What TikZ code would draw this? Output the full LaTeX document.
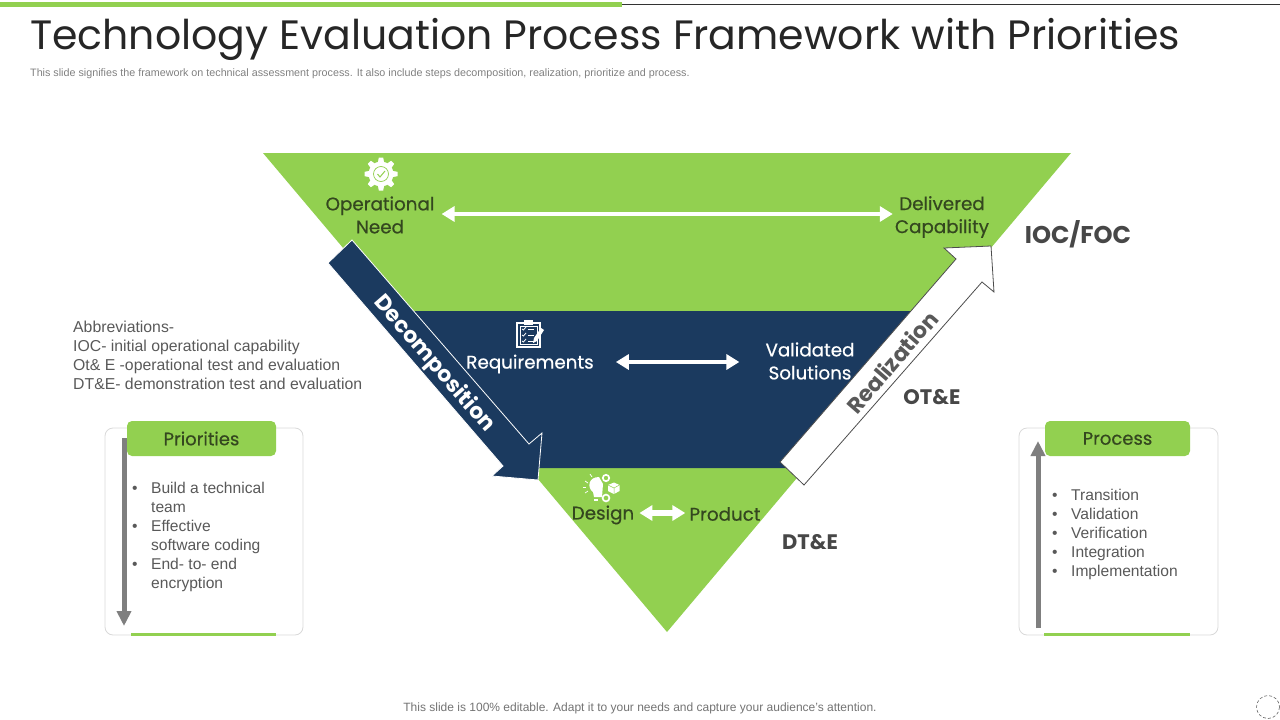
\documentclass[tikz,border=0pt]{standalone}
\usepackage{fontspec}
\setmainfont{Liberation Sans}
\newfontfamily\headfont{Poppins}
\newfontfamily\midfont[FakeBold=0.5]{Poppins}
\usetikzlibrary{arrows.meta,calc}
\definecolor{mygreen}{HTML}{92D050}
\definecolor{mynavy}{HTML}{1B3A5F}
\definecolor{mydarkgreen}{HTML}{34471F}
\definecolor{mytext}{HTML}{595959}
\definecolor{mygrey}{HTML}{7F7F7F}
\tikzset{>=latex}
\tikzstyle{stage}=[font=\midfont\fontsize{18.3}{23}\selectfont,align=center,inner sep=2]
\tikzstyle{tier}=[font=\headfont\bfseries\fontsize{21}{25}\selectfont,text=black!72]
\tikzstyle{bodytext}=[font=\fontsize{15.8}{19}\selectfont,text=mytext,align=left,inner sep=0]
\tikzstyle{listtext}=[font=\fontsize{15.6}{19}\selectfont,text=mytext,align=left,inner sep=0]
\tikzstyle{headbox}=[fill=mygreen,rounded corners=5,text=mydarkgreen,font=\midfont\fontsize{18}{20}\selectfont,inner sep=0]
\tikzstyle{card}=[draw=black!15,fill=white,rounded corners=8,line width=.8]
\tikzstyle{whitearrow}=[{Triangle[length=13,width=15]}-{Triangle[length=13,width=15]},white]
\tikzstyle{greyarrow}=[-{Triangle[length=15,width=14]},mygrey,line width=5]
\def\gearicon#1#2{
  \foreach \t in {0,45,...,315}
    \fill[white,rotate around={\t:(#1,#2)}] (#1-3.2,#2-11) -- (#1-2.2,#2-16.5) -- (#1+2.2,#2-16.5) -- (#1+3.2,#2-11) -- cycle;
  \fill[white] (#1,#2) circle (12.5);
  \draw[mygreen,line width=.7] (#1,#2) circle (7.5);
  \draw[mygreen,line width=1] (#1-3.5,#2) -- (#1-1,#2+3) -- (#1+4,#2-3);
}
\def\clipicon#1#2{
  \draw[white,line width=1.2,fill=mynavy] (#1-12,#2-11) rectangle (#1+11,#2+13);
  \draw[white,line width=1] (#1-9,#2-8) rectangle (#1+8,#2+10);
  \fill[white] (#1-5,#2-14) rectangle (#1+4,#2-9);
  \foreach \i in {-4,2,8} {
    \draw[white,line width=.8] (#1-7,#2+\i-1) -- (#1-5.5,#2+\i) -- (#1-3,#2+\i-3);
    \draw[white,line width=1] (#1-1,#2+\i-1) -- (#1+5,#2+\i-1);
  }
  \fill[white] (#1+4,#2+9) -- (#1+5,#2+4) -- (#1+12,#2-6) -- (#1+15,#2-4) -- (#1+8,#2+7) -- cycle;
}
\def\designicon#1#2{
  % bulb
  \fill[white] (#1,#2-11) .. controls (#1-11,#2-11) and (#1-12,#2) .. (#1-6,#2+4) -- (#1-5,#2+9) -- (#1+3,#2+9) -- (#1+4,#2-4) -- cycle;
  \fill[white] (#1-5,#2+10.5) rectangle (#1-1,#2+13);
  \foreach \a/\b/\c/\d in {-14/-7/-11/-5,-16/-1/-13/-1,-14/5/-11/3,-9/-14/-7/-11}
    \draw[white,line width=.7] (#1+\a,#2+\b) -- (#1+\c,#2+\d);
  % gears
  \draw[white,line width=1.7] (#1+7,#2-10) circle (3.2);
  \draw[white,line width=1.7] (#1+7,#2+10) circle (3.4);
  % cube
  \fill[white] (#1+15,#2-5.5) -- (#1+20.5,#2-3) -- (#1+20.5,#2+3) -- (#1+15,#2+6) -- (#1+9,#2+3) -- (#1+9,#2-3) -- cycle;
  \draw[mygreen,line width=.5] (#1+9,#2-3) -- (#1+15,#2) -- (#1+20.5,#2-3) (#1+15,#2) -- (#1+15,#2+6);
}
\begin{document}
\begin{tikzpicture}[x=1pt,y=-1pt]
  \useasboundingbox (0,0) rectangle (1280,720);

  % TOP RULE
  \draw[black!80,line width=.8] (622,4) -- (1280,4);
  \fill[mygreen] (0,2) rectangle (622,7);

  % HEADINGS
  \node[anchor=west,inner sep=0,text=black!85,font=\headfont\fontsize{41}{46}\selectfont] (title) at (30,39.5) {Technology Evaluation Process Framework with Priorities};
  \node[anchor=west,inner sep=0,text=black!50,font=\fontsize{10.75}{12}\selectfont] (subtitle) at (30,74) {This slide signifies the framework on technical assessment process. It also include steps decomposition, realization, prioritize and process.};
  \node[inner sep=0,text=black!55,font=\fontsize{12}{14}\selectfont] (footer) at (640,708) {This slide is 100\% editable. Adapt it to your needs and capture your audience's attention.};

  % TRIANGLE
  \fill[mygreen] (263,153) -- (1071,153) -- (667,632) -- cycle;
  \fill[mynavy] (396,311) -- (938,311) -- (805,468) -- (529,468) -- cycle;

  % DECOMPOSITION
  \draw[white,line width=.8,fill=mynavy] (352,240) -- (529,444) -- (542,433) -- (538,480) -- (492,476) -- (503,466) -- (328,263) -- cycle;
  \node[rotate=-49,text=white,font=\headfont\bfseries\fontsize{22}{26}\selectfont,inner sep=0] (decomp) at (434,364) {Decomposition};

  % REALIZATION
  \draw[black!70,line width=.8,fill=white] (780,462) -- (956,259) -- (944,248) -- (991,246) -- (994,292) -- (982,282) -- (804,485) -- cycle;
  \node[rotate=49,text=black!65,font=\headfont\bfseries\fontsize{22}{26}\selectfont,inner sep=0] (realize) at (892,362) {Realization};

  % STAGES
  \node[stage,text=mydarkgreen] (opneed) at (380,215) {Operational\\Need};
  \node[stage,text=mydarkgreen] (delcap) at (942,217) {Delivered\\Capability};
  \node[stage,text=white] (req) at (530,364) {Requirements};
  \node[stage,text=white] (valsol) at (810,361) {Validated\\Solutions};
  \node[stage,text=mydarkgreen] (design) at (603,515) {Design};
  \node[stage,text=mydarkgreen] (product) at (725,514) {Product};

  \draw[whitearrow,line width=4] ($(opneed.east)+(5,-1)$) -- ($(delcap.west)+(0,-3)$);
  \draw[whitearrow,line width=4] ($(req.east)+(20,-2)$) -- ($(valsol.west)+(-24,1)$);
  \draw[whitearrow,line width=6] ($(design.east)+(3,-2)$) -- ($(product.west)+(-2,-1)$);

  % ICONS
  \gearicon{381}{174}
  \clipicon{529}{334}
  \designicon{599}{488}

  % TIERS
  \node[tier,font=\headfont\bfseries\fontsize{24.2}{28}\selectfont] (iocfoc) at (1078,234) {IOC/FOC};
  \node[tier] (ote) at (932,397) {OT\&E};
  \node[tier] (dte) at (810,542) {DT\&E};

  % ABBREVIATIONS
  \node[bodytext,anchor=north west] (abbrev) at (73,320.5) {Abbreviations-\\IOC- initial operational capability\\Ot\& E -operational test and evaluation\\DT\&E- demonstration test and evaluation};

  % PRIORITIES
  \draw[card] (105,428) rectangle (303,635);
  \draw[mygreen,line width=3] (131,634) -- (276,634);
  \node[headbox,minimum width=149,minimum height=35] (prio) at (201.5,438.5) {Priorities};
  \coordinate (priotop) at (124,438);
  \coordinate (priobot) at (124,626);
  \draw[greyarrow] (priotop) -- (priobot);
  \node[listtext,anchor=north west] (priolist) at (132,479.5) {\begin{tabular}{@{}l@{\hspace{13.5pt}}l@{}}
    • & Build a technical\\ & team\\ • & Effective\\ & software coding\\ • & End- to- end\\ & encryption
  \end{tabular}};

  % PROCESS
  \draw[card] (1019,428) rectangle (1218,635);
  \draw[mygreen,line width=3] (1044,634) -- (1190,634);
  \node[headbox,minimum width=145,minimum height=35] (proc) at (1117.5,438.5) {Process};
  \coordinate (procbot) at (1038,628);
  \coordinate (proctop) at (1038,441);
  \draw[greyarrow] (procbot) -- (proctop);
  \node[listtext,anchor=north west] (proclist) at (1052,486.5) {\begin{tabular}{@{}l@{\hspace{13.5pt}}l@{}}
    • & Transition\\ • & Validation\\ • & Verification\\ • & Integration\\ • & Implementation
  \end{tabular}};

  % CORNER MARK
  \draw[black!60,densely dashed,line width=.6] (1268,707) circle (11.5);
\end{tikzpicture}
\end{document}
